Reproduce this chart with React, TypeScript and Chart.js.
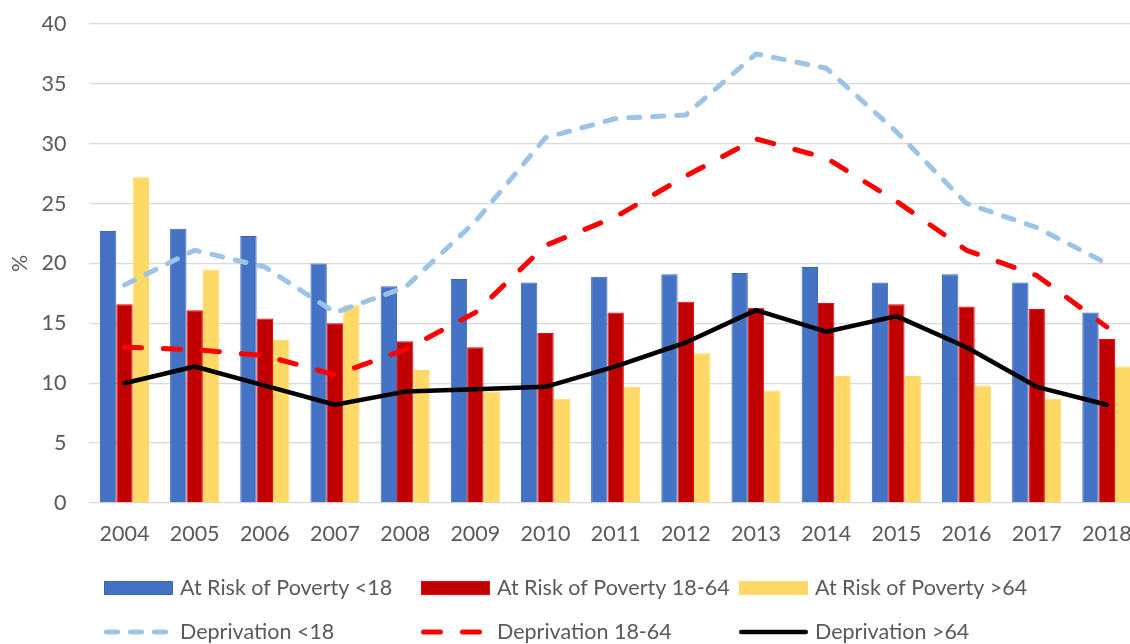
import React, { useEffect, useRef } from "react";
import { Chart, registerables } from "chart.js";

Chart.register(...registerables);

const years = ["2004", "2005", "2006", "2007", "2008", "2009", "2010", "2011", "2012", "2013", "2014", "2015", "2016", "2017", "2018"];
const riskUnder18 = [22.7, 22.9, 22.3, 20.0, 18.1, 18.7, 18.4, 18.9, 19.1, 19.2, 19.7, 18.4, 19.1, 18.4, 15.9];
const risk18to64 = [16.6, 16.1, 15.4, 15.0, 13.5, 13.0, 14.2, 15.9, 16.8, 16.3, 16.7, 16.6, 16.4, 16.2, 13.7];
const riskOver64 = [27.2, 19.5, 13.6, 16.5, 11.1, 9.3, 8.7, 9.7, 12.5, 9.4, 10.6, 10.6, 9.8, 8.7, 11.4];
const depUnder18 = [18.2, 21.1, 19.7, 15.9, 18.0, 23.5, 30.5, 32.1, 32.4, 37.5, 36.3, 31.0, 25.0, 23.0, 20.0];
const dep18to64 = [13.0, 12.8, 12.3, 10.7, 12.8, 15.9, 21.5, 23.9, 27.3, 30.4, 28.8, 25.2, 21.1, 19.0, 14.7];
const depOver64 = [10.0, 11.4, 9.8, 8.2, 9.3, 9.5, 9.7, 11.4, 13.4, 16.1, 14.3, 15.6, 13.0, 9.7, 8.2];
const yTicks = { min: 0, max: 40, step: 5 };
const yTitle = "%";

const FONT = "Lato";
const TEXT = "#595959";
const FSIZE = 21.5;
const SHIFT = 12;

const gridLegend = {
  id: "gridLegend",
  afterDraw(chart: any) {
    const ctx = chart.ctx;
    const cols = [104, 421, 739];
    const rows = [588 + SHIFT, 632 + SHIFT];
    const mw = 69;
    chart.data.datasets.forEach((ds: any, i: number) => {
      const x = cols[i % 3];
      const y = rows[Math.floor(i / 3)];
      ctx.save();
      if (ds.type === "bar") {
        ctx.fillStyle = ds.backgroundColor;
        ctx.fillRect(x, y - 7, mw, 14);
        ctx.strokeStyle = ds.borderColor;
        ctx.lineWidth = 1;
        ctx.strokeRect(x + 0.5, y - 6.5, mw - 1, 13);
      } else {
        ctx.strokeStyle = ds.borderColor;
        ctx.lineWidth = ds.borderWidth;
        ctx.lineCap = "round";
        ctx.setLineDash(ds.borderDash || []);
        ctx.beginPath();
        ctx.moveTo(x + ds.borderWidth / 2, y);
        ctx.lineTo(x + mw - ds.borderWidth / 2, y);
        ctx.stroke();
      }
      ctx.setLineDash([]);
      ctx.fillStyle = TEXT;
      ctx.font = `${FSIZE}px ${FONT}`;
      ctx.textBaseline = "middle";
      ctx.textAlign = "left";
      ctx.fillText(ds.label, x + 76, y);
      ctx.restore();
    });
  },
};

export default function App() {
  const ref = useRef<HTMLCanvasElement>(null);
  useEffect(() => {
    if (!ref.current) return;
    const font = { family: FONT, size: FSIZE };
    const chart = new Chart(ref.current, {
      data: {
        labels: years,
        datasets: [
          { type: "bar", label: "At Risk of Poverty <18", data: riskUnder18, backgroundColor: "#4472C4", borderColor: "#3A66B5", borderWidth: 1, order: 2, categoryPercentage: 0.7, barPercentage: 1 },
          { type: "bar", label: "At Risk of Poverty 18-64", data: risk18to64, backgroundColor: "#C00000", borderColor: "#FF0000", borderWidth: 1, order: 2, categoryPercentage: 0.7, barPercentage: 1 },
          { type: "bar", label: "At Risk of Poverty >64", data: riskOver64, backgroundColor: "#FFD966", borderColor: "#FFD966", borderWidth: 1, order: 2, categoryPercentage: 0.7, barPercentage: 1 },
          { type: "line", label: "Deprivation <18", data: depUnder18, borderColor: "#9DC3E6", backgroundColor: "#9DC3E6", borderWidth: 5, borderDash: [11, 13], borderCapStyle: "round", borderJoinStyle: "round", pointRadius: 0, tension: 0, order: 1 },
          { type: "line", label: "Deprivation 18-64", data: dep18to64, borderColor: "#FF0000", backgroundColor: "#FF0000", borderWidth: 5, borderDash: [17, 22], borderCapStyle: "round", borderJoinStyle: "round", pointRadius: 0, tension: 0, order: 1 },
          { type: "line", label: "Deprivation >64", data: depOver64, borderColor: "#000000", backgroundColor: "#000000", borderWidth: 4.5, borderCapStyle: "round", borderJoinStyle: "round", pointRadius: 0, tension: 0, order: 1 },
        ] as any,
      },
      options: {
        responsive: false,
        animation: false,
        layout: { padding: { left: 0, right: 6, top: 12, bottom: 0 } },
        plugins: { legend: { display: false }, tooltip: { enabled: false } },
        scales: {
          x: {
            grid: { display: false, drawTicks: false },
            border: { display: false },
            ticks: { font, color: TEXT, padding: 18, maxRotation: 0, autoSkip: false },
            afterFit: (s: any) => { s.height = 141; },
          },
          y: {
            min: yTicks.min,
            max: yTicks.max,
            ticks: { stepSize: yTicks.step, padding: 23, font, color: TEXT },
            grid: { color: "#D9D9D9", lineWidth: 1.3, drawTicks: false },
            border: { display: false },
            title: { display: true, text: yTitle, font, color: TEXT, padding: { top: 7, bottom: 0 } },
            afterFit: (s: any) => { s.width = 89.4; },
          },
        },
      } as any,
      plugins: [gridLegend],
    });
    return () => chart.destroy();
  }, []);
  return (
    <div style={{ position: "fixed", left: 0, top: 0, width: 1130, height: 644, overflow: "hidden", background: "#fff" }}>
      <canvas ref={ref} width={1150} height={644 + SHIFT} style={{ display: "block", position: "absolute", left: 0, top: -SHIFT }} />
    </div>
  );
}
